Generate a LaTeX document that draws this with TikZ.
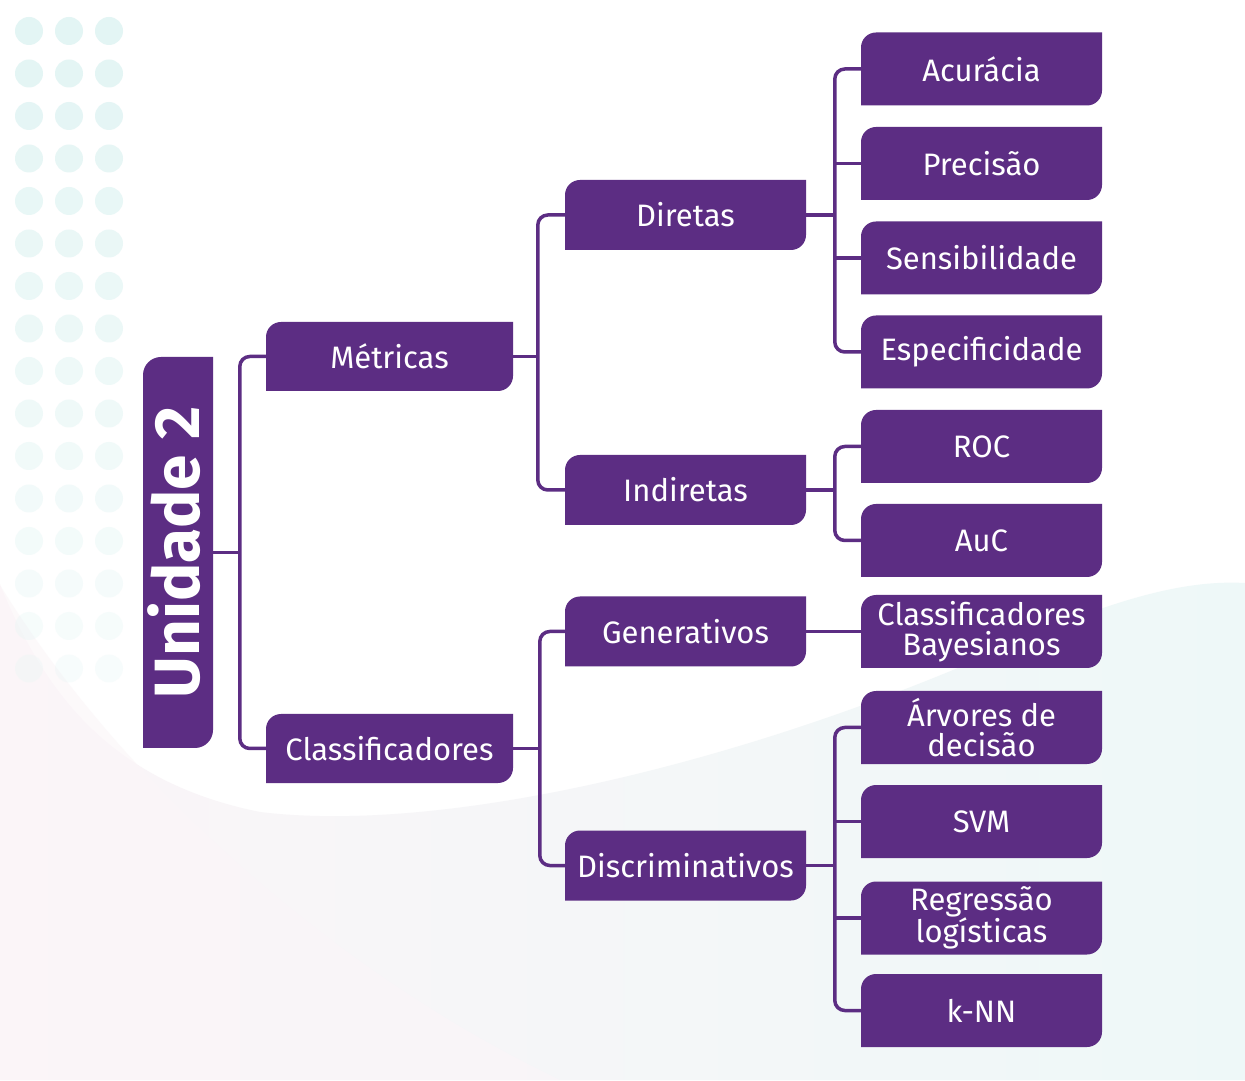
\documentclass[tikz,border=0pt]{standalone}
\usepackage{fontspec}
\usepackage{graphicx}
\setmainfont{Fira Sans}
\usetikzlibrary{calc}

\definecolor{purp}{HTML}{5C2D83}
\definecolor{dotc}{HTML}{E3F5F4}
\definecolor{tintL}{HTML}{FBF5F8}
\definecolor{tintR}{HTML}{EEF8F8}

% tab shape: rounded top-left and bottom-right corners
\newcommand\tabfill[1]{%
  \fill[purp] (path picture bounding box.south west)
    -- ([yshift=-#1pt]path picture bounding box.north west)
    arc[start angle=180,end angle=90,radius=#1pt]
    -- (path picture bounding box.north east)
    -- ([yshift=#1pt]path picture bounding box.south east)
    arc[start angle=0,end angle=-90,radius=#1pt]
    -- cycle;}

\tikzset{
  tab/.style={rectangle, inner sep=0pt, text=white, align=center,
    font=\fontsize{31}{30}\selectfont, path picture={\tabfill{15}}},
  lvlone/.style={tab, minimum width=247pt, minimum height=69pt},
  lvltwo/.style={tab, minimum width=241pt, minimum height=70pt},
  leaf/.style={tab, minimum width=241pt, minimum height=73pt},
  conn/.style={draw=purp, line width=3.5pt, rounded corners=10pt},
  stub/.style={draw=purp, line width=3.5pt},
}

\begin{document}
\begin{tikzpicture}[x=1pt,y=1pt]
\useasboundingbox (0,0) rectangle (1245,1080);
\fill[white] (0,0) rectangle (1245,1080);

% soft tinted lower backdrop
\shade[left color=tintL, right color=tintR]
  (0,495) .. controls (40,400) and (100,300) .. (260,268)
  .. controls (450,245) and (750,320) .. (1000,430)
  .. controls (1120,485) and (1190,500) .. (1245,497)
  -- (1245,0) -- (0,0) -- cycle;
\fill[tintL, opacity=0.6]
  (0,495) .. controls (120,300) and (330,110) .. (560,0) -- (0,0) -- cycle;

% dot grid, fading downwards
\foreach \r in {0,...,15}{
  \pgfmathsetmacro\op{1-0.05*\r}
  \foreach \c in {29,69,109}{
    \fill[dotc, opacity=\op] (\c,{1049-\r*42.5}) circle (14);
  }
}

% root
\node[tab, path picture={\tabfill{18}}, minimum width=70pt, minimum height=391pt]
  (root) at (178,527.5) {\rotatebox{90}{\fontsize{64}{64}\selectfont\bfseries Unidade 2}\hspace{7pt}};

% first level
\node[lvlone] (met) at (389.5,723.5) {Métricas};
\node[lvlone] (cla) at (389.5,331.5) {Classificadores};

% second level
\node[lvltwo] (dir) at (685.5,865) {Diretas};
\node[lvltwo] (ind) at (685.5,590) {Indiretas};
\node[lvltwo] (gen) at (685.5,448.5) {Generativos};
\node[lvltwo] (dis) at (685.5,214.5) {Discriminativos};

% leaves
\node[leaf] (acu) at (981.5,1011) {Acurácia};
\node[leaf] (pre) at (981.5,916.5) {Precisão};
\node[leaf] (sen) at (981.5,822) {Sensibilidade};
\node[leaf] (esp) at (981.5,728) {Especificidade};
\node[leaf] (roc) at (981.5,633.5) {ROC};
\node[leaf] (auc) at (981.5,539.5) {AuC};
\node[leaf] (bay) at (981.5,448.5) {Classificadores\\Bayesianos};
\node[leaf] (arv) at (981.5,352.5) {Árvores de\\decisão};
\node[leaf] (svm) at (981.5,258.5) {SVM};
\node[leaf] (reg) at (981.5,162) {Regressão\\logísticas};
\node[leaf] (knn) at (981.5,69.5) {k-NN};

% root brackets
\draw[conn] (met.west) -- ++(-26,0) |- (cla.west);
\coordinate (b0) at ([xshift=-26pt]met.west);
\draw[stub] (root.east) -- (root.east -| b0);

% Métricas brackets
\draw[conn] (dir.west) -- ++(-27,0) |- (ind.west);
\coordinate (b1) at ([xshift=-27pt]dir.west);
\draw[stub] (met.east) -- (met.east -| b1);

% Classificadores brackets
\draw[conn] (gen.west) -- ++(-25,0) |- (dis.west);
\coordinate (b2) at ([xshift=-25pt]gen.west);
\draw[stub] (cla.east) -- (cla.east -| b2);

% Diretas brackets
\draw[conn] (acu.west) -- ++(-26,0) |- (esp.west);
\coordinate (b3) at ([xshift=-26pt]acu.west);
\draw[stub] (pre.west) -- (pre.west -| b3);
\draw[stub] (sen.west) -- (sen.west -| b3);
\draw[stub] (dir.east) -- (dir.east -| b3);

% Indiretas brackets
\draw[conn] (roc.west) -- ++(-26,0) |- (auc.west);
\draw[stub] (ind.east) -- (ind.east -| b3);

% Generativos
\draw[stub] (gen.east) -- (bay.west);

% Discriminativos brackets
\draw[conn] (arv.west) -- ++(-26,0) |- (knn.west);
\draw[stub] (svm.west) -- (svm.west -| b3);
\draw[stub] (reg.west) -- (reg.west -| b3);
\draw[stub] (dis.east) -- (dis.east -| b3);
\end{tikzpicture}
\end{document}
